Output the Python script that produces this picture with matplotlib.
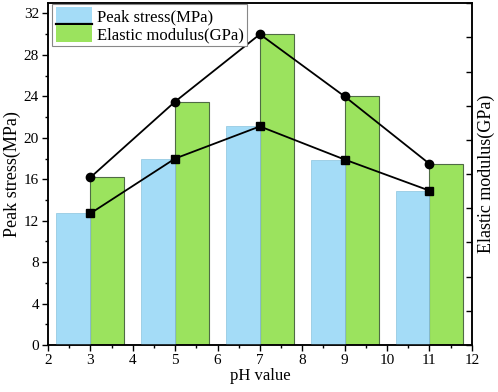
import matplotlib
matplotlib.use("Agg")
import matplotlib.pyplot as plt
from matplotlib.patches import Rectangle, Patch
from matplotlib.lines import Line2D
from matplotlib.ticker import MultipleLocator, NullFormatter

plt.rcParams['font.family'] = ['Liberation Serif', 'DejaVu Serif']

# data
ph = [3, 5, 7, 9, 11]
peak_stress = [12.7, 18.0, 21.1, 17.9, 14.9]        # MPa, left axis
elastic_modulus = [4.9, 7.12, 9.09, 7.27, 5.3]      # GPa, right axis (0-10)

blue = '#a4dcf7'
green = '#9be35e'


class BlueWithLine:
    # legend handle: blue box with a black line along its bottom
    def legend_artist(self, legend, orig_handle, fontsize, handlebox):
        x0, y0 = -handlebox.xdescent, -handlebox.ydescent
        w, h = handlebox.width, handlebox.height
        box = Rectangle((x0, y0), w, h, facecolor=blue, edgecolor='none',
                        transform=handlebox.get_transform())
        ln = Line2D([x0, x0 + w], [y0, y0], color='black', lw=1.6,
                    transform=handlebox.get_transform())
        handlebox.add_artist(box)
        handlebox.add_artist(ln)
        return box


fig = plt.figure(figsize=(4.98, 3.92), dpi=100)
ax = fig.add_axes([0.0964, 0.120, 0.851, 0.872])
ax2 = ax.twinx()
ax.set_zorder(ax2.get_zorder() + 1)
ax.patch.set_visible(False)

w = 0.8
ax.bar([p - w / 2 for p in ph], peak_stress, width=w, color=blue,
       edgecolor='#8cc4de', linewidth=0.5)
ax2.bar([p + w / 2 for p in ph], elastic_modulus, width=w, color=green,
        edgecolor='#4f6b45', linewidth=0.8)

ax2.plot(ph, elastic_modulus, color='black', lw=1.3, marker='o', ms=6)
ax.plot(ph, peak_stress, color='black', lw=1.3, marker='s', ms=6)

ax.set_xlim(2, 12)
ax.set_ylim(0, 33)
ax2.set_ylim(0, 10)

ax.xaxis.set_major_locator(MultipleLocator(1))
ax.xaxis.set_minor_locator(MultipleLocator(0.5))
ax.yaxis.set_major_locator(MultipleLocator(4))
ax.yaxis.set_minor_locator(MultipleLocator(2))
ax.tick_params(axis='both', which='major', direction='out', length=4,
               width=1, labelsize=11, pad=2.5)
ax.tick_params(axis='both', which='minor', direction='out', length=2.5, width=1)
ax.tick_params(axis='y', right=False)
ax.tick_params(axis='x', top=False)

ax2.yaxis.set_major_locator(MultipleLocator(1))
ax2.yaxis.set_major_formatter(NullFormatter())
ax2.tick_params(axis='y', direction='in', length=4, width=1)

for a in (ax, ax2):
    for s in a.spines.values():
        s.set_linewidth(1.1)

ax.set_xlabel('pH value', fontsize=12, labelpad=1)
ax.set_ylabel('Peak stress(MPa)', fontsize=13, labelpad=2)
ax2.set_ylabel('Elastic modulus(GPa)', fontsize=13, labelpad=1)

h1 = Patch(facecolor=blue)
h2 = Patch(facecolor=green)
leg = ax.legend([h1, h2], ['Peak stress(MPa)', 'Elastic modulus(GPa)'],
                handler_map={h1: BlueWithLine()}, loc='upper left',
                bbox_to_anchor=(0.008, 1.0), borderaxespad=0.05,
                fontsize=12, frameon=True, fancybox=False, framealpha=1,
                edgecolor='#888888', labelspacing=0.0, handlelength=2.2,
                handleheight=1.15, handletextpad=0.3, borderpad=0.2)
leg.get_frame().set_linewidth(0.8)

fig.savefig('out.png', dpi=100)
